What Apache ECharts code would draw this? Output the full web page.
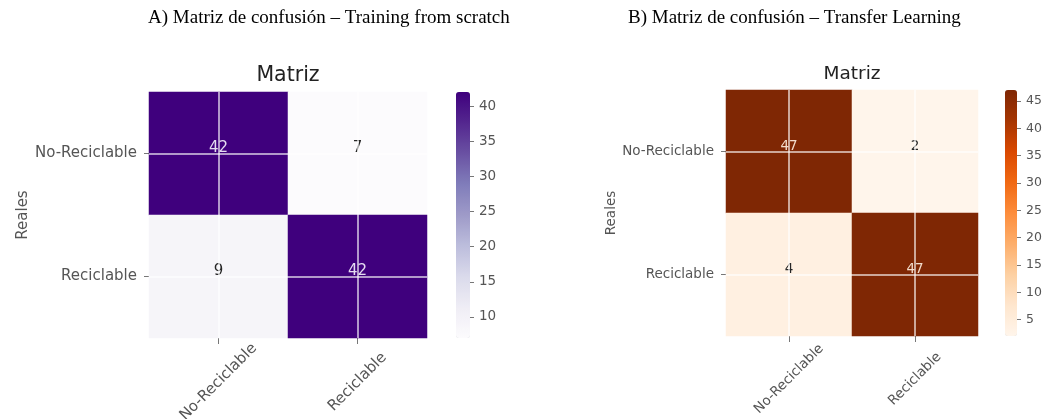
<!DOCTYPE html>
<html>
<head>
<meta charset="utf-8">
<title>Matriz de confusión</title>
<script src="https://cdn.jsdelivr.net/npm/echarts@6/dist/echarts.min.js"></script>
<style>
  html, body { margin: 0; padding: 0; background: #fff; }
  #chart { width: 1042px; height: 419px; }
</style>
</head>
<body>
<div id="chart"></div>
<script>
// categories (rows = real, cols = predicted)
const categories = ['No-Reciclable', 'Reciclable'];

// A) training from scratch
const scratchMatrix = [
  [42, 7],
  [9, 42]
];
const scratchTicks = [10, 15, 20, 25, 30, 35, 40];

// B) transfer learning
const transferMatrix = [
  [47, 2],
  [4, 47]
];
const transferTicks = [5, 10, 15, 20, 25, 30, 35, 40, 45];

// matplotlib colormaps
const purples = ['#fcfbfd', '#efedf5', '#dadaeb', '#bcbddc', '#9e9ac8', '#807dba', '#6a51a3', '#54278f', '#3f007d'];
const oranges = ['#fff5eb', '#fee6ce', '#fdd0a2', '#fdae6b', '#fd8d3c', '#f16913', '#d94801', '#a63603', '#7f2704'];

const FONT = 'DejaVu Sans';
const GREY = '#555';

function toCells(matrix, lightColor, fontSize) {
  let flat = matrix.flat();
  let thresh = Math.max(...flat) / 2;
  let cells = [];
  matrix.forEach(function (row, r) {
    row.forEach(function (v, c) {
      cells.push({
        value: [c, r, v],
        label: {
          show: true, fontFamily: FONT, fontSize: fontSize, offset: [0, -5],
          color: v > thresh ? lightColor : '#262626'
        }
      });
    });
  });
  return cells;
}

// one panel = heatmap grid + colorbar grid
function buildPanel(p, idx) {
  let flat = p.matrix.flat();
  let vmin = Math.min(...flat);
  let vmax = Math.max(...flat);
  let g = idx * 2;
  return {
    grid: [
      { left: p.box[0], top: p.box[1], width: p.box[2], height: p.box[3], outerBoundsMode: 'none' },
      { left: p.bar[0], top: p.bar[1], width: p.bar[2], height: p.bar[3], outerBoundsMode: 'none' }
    ],
    xAxis: [
      {
        type: 'category', gridIndex: g, data: categories,
        axisLine: { show: false },
        axisTick: { show: true, alignWithLabel: true, length: 6, lineStyle: { color: '#777' } },
        axisLabel: {
          rotate: 45, align: 'center', verticalAlign: 'middle', margin: p.xMargin,
          fontFamily: FONT, fontSize: p.font, color: GREY
        },
        splitLine: { show: false }
      },
      { type: 'category', gridIndex: g + 1, data: [''], show: false }
    ],
    yAxis: [
      {
        type: 'category', gridIndex: g, data: categories, inverse: true,
        name: 'Reales', nameLocation: 'middle', nameGap: p.nameGap,
        nameTextStyle: { fontFamily: FONT, fontSize: p.font, color: GREY },
        axisLine: { show: false },
        axisTick: { show: true, alignWithLabel: true, length: 5, lineStyle: { color: '#777' } },
        axisLabel: { margin: 12, fontFamily: FONT, fontSize: p.font, color: GREY },
        splitLine: { show: false }
      },
      {
        type: 'value', gridIndex: g + 1, position: 'right', min: vmin, max: vmax,
        axisLine: { show: false },
        axisTick: { show: true, length: 4, customValues: p.ticks, lineStyle: { color: '#777' } },
        axisLabel: {
          margin: 9, customValues: p.ticks,
          fontFamily: FONT, fontSize: p.tickFont, color: GREY
        },
        splitLine: { show: false }
      }
    ],
    visualMap: {
      type: 'continuous', seriesIndex: idx, min: vmin, max: vmax,
      calculable: false, orient: 'vertical', padding: 0,
      left: p.bar[0], top: p.bar[1], itemWidth: p.bar[2], itemHeight: p.bar[3],
      inRange: { color: p.cmap }
    },
    series: {
      type: 'heatmap', xAxisIndex: g, yAxisIndex: g,
      data: toCells(p.matrix, p.lightText, p.cellFont),
      label: { show: true, fontFamily: FONT, fontSize: p.cellFont },
      emphasis: { disabled: true },
      markLine: {
        silent: true, symbol: 'none',
        label: { show: false },
        lineStyle: { color: 'rgba(255,255,255,0.8)', width: 1.5, type: 'solid' },
        data: categories.map(c => ({ xAxis: c })).concat(categories.map(c => ({ yAxis: c })))
      }
    },
    titles: [
      {
        text: p.caption, left: p.captionLeft, top: 9, padding: 0,
        textStyle: { fontFamily: 'Liberation Serif', fontSize: 19, fontWeight: 'normal', color: '#000' }
      },
      {
        text: 'Matriz', left: p.box[0] + p.box[2] / 2, top: p.titleTop, padding: 0, textAlign: 'center',
        textStyle: { fontFamily: FONT, fontSize: p.titleFont, fontWeight: 'normal', color: '#222' }
      }
    ]
  };
}

const panels = [
  buildPanel({
    matrix: scratchMatrix, ticks: scratchTicks, cmap: purples, lightText: '#e4dcf0',
    box: [149, 92, 278, 246], bar: [456, 92, 14, 246],
    font: 15, tickFont: 13.5, cellFont: 15, titleFont: 20.5, titleTop: 65,
    xMargin: 44, nameGap: 118,
    caption: 'A) Matriz de confusión – Training from scratch', captionLeft: 148
  }, 0),
  buildPanel({
    matrix: transferMatrix, ticks: transferTicks, cmap: oranges, lightText: '#f3dccb',
    box: [726, 90, 252, 246], bar: [1005, 90, 12, 246],
    font: 13.5, tickFont: 12.5, cellFont: 13.5, titleFont: 18.5, titleTop: 65,
    xMargin: 43, nameGap: 106,
    caption: 'B) Matriz de confusión – Transfer Learning', captionLeft: 628
  }, 1)
];

let chartDom = document.getElementById('chart');
let myChart = echarts.init(chartDom, null, { renderer: 'canvas' });

let option = {
  animation: false,
  backgroundColor: '#fff',
  title: panels.flatMap(p => p.titles),
  grid: panels.flatMap(p => p.grid),
  xAxis: panels.flatMap(p => p.xAxis),
  yAxis: panels.flatMap(p => p.yAxis),
  visualMap: panels.map(p => p.visualMap),
  series: panels.map(p => p.series)
};

option && myChart.setOption(option);
</script>
</body>
</html>
